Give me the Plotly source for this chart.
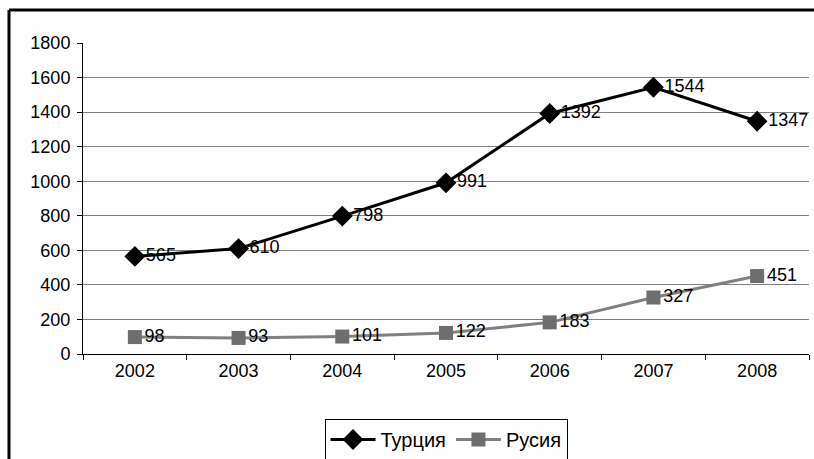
import plotly.graph_objects as go

years = ["2002", "2003", "2004", "2005", "2006", "2007", "2008"]
turkey = [565, 610, 798, 991, 1392, 1544, 1347]
russia = [98, 93, 101, 122, 183, 327, 451]

font = "Liberation Sans, Arial, sans-serif"

fig = go.Figure()
fig.add_trace(go.Scatter(
    x=years, y=turkey, name="Турция", mode="lines+markers+text",
    line=dict(color="#000000", width=3),
    marker=dict(symbol="diamond", size=16, color="#000000"),
    text=[str(v) for v in turkey], textposition="middle right",
    textfont=dict(size=18, color="#000000", family=font),
    cliponaxis=False,
))
fig.add_trace(go.Scatter(
    x=years, y=russia, name="Русия", mode="lines+markers+text",
    line=dict(color="#808080", width=3),
    marker=dict(symbol="square", size=14, color="#6e6e6e"),
    text=[str(v) for v in russia], textposition="middle right",
    textfont=dict(size=18, color="#000000", family=font),
    cliponaxis=False,
))

W, H = 814, 459
L, T = 83, 43
pw, ph = 726, 311
R, B = W - L - pw, H - T - ph
bx = (9 - L) / pw
by = (ph + T - 10) / ph

shapes = [
    dict(type="line", xref="paper", yref="paper", x0=bx, x1=bx, y0=-2, y1=by,
         line=dict(color="#000000", width=3)),
    dict(type="line", xref="paper", yref="paper", x0=bx, x1=2, y0=by, y1=by,
         line=dict(color="#000000", width=3)),
]

fig.update_layout(
    width=W, height=H,
    margin=dict(l=L, r=R, t=T, b=B, autoexpand=False),
    paper_bgcolor="white", plot_bgcolor="white",
    font=dict(family=font, size=18, color="#000000"),
    showlegend=True,
    legend=dict(orientation="h", x=0.5, xanchor="center", y=(T + ph - 419) / ph, yanchor="top",
                bordercolor="#000000", borderwidth=1, font=dict(size=20),
                itemwidth=45, tracegroupgap=0),
    xaxis=dict(type="category", range=[-0.5, len(years) - 0.5], showgrid=False, showline=True,
               linecolor="#000000", linewidth=1,
               ticks="outside", tickson="boundaries", ticklen=5, tickcolor="#000000",
               tickfont=dict(size=18), automargin=False),
    yaxis=dict(range=[0, 1800], dtick=200, showgrid=True, gridcolor="#808080", gridwidth=1,
               showline=True, linecolor="#000000", linewidth=1, ticks="outside", ticklen=5,
               tickcolor="#000000", tickfont=dict(size=18), zeroline=False, automargin=False,
               ticklabelstandoff=3),
    shapes=shapes,
)

fig.write_html("out.html", config={"displayModeBar": False},
               post_script="document.body.style.margin='0';document.body.style.overflow='hidden';")
